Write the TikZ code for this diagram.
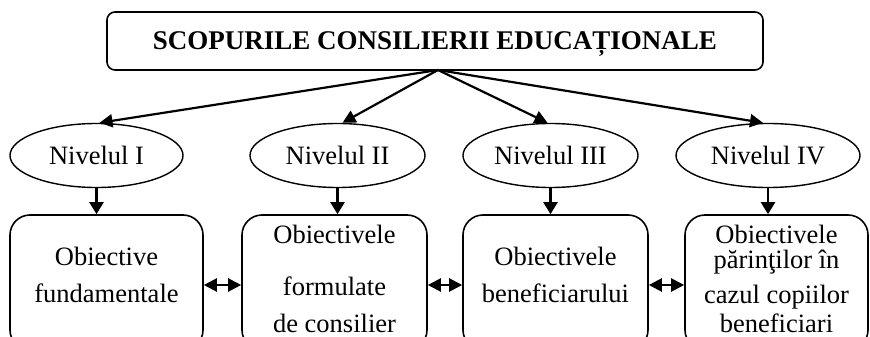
\documentclass[tikz,border=0pt]{standalone}
\usepackage{fontspec}
\setmainfont{Liberation Serif}
\usetikzlibrary{arrows.meta,shapes.geometric}
\begin{document}
\begin{tikzpicture}[x=1pt,y=-1pt,
  txt/.style={font=\fontsize{26.5}{30}\selectfont, inner sep=0pt, anchor=base},
  topbox/.style={draw, line width=1.6pt, rounded corners=8pt, minimum width=656pt, minimum height=58pt, inner sep=0pt},
  level/.style={draw, ellipse, line width=1.4pt, minimum height=64pt, inner sep=0pt},
  goalbox/.style={draw, line width=1.6pt, rounded corners=20pt, minimum height=135pt, inner sep=0pt},
  fan/.style={line width=2.2pt, -{Triangle[length=13pt,width=13pt]}},
  down/.style={line width=2.2pt, -{Triangle[length=12pt,width=14pt]}},
  link/.style={line width=2.2pt, {Triangle[length=13pt,width=13pt]}-{Triangle[length=13pt,width=13pt]}}]
\useasboundingbox (0,0) rectangle (870,337);
\clip (0,0) rectangle (870,337);

% heading
\node[topbox] (top) at (435,41) {};
\node[txt, font=\fontsize{27}{30}\selectfont\bfseries] at (435,50) {SCOPURILE CONSILIERII EDUCAȚIONALE};
\coordinate (apex) at (438,70);

% levels
\node[level, minimum width=173pt] (n1) at (96.5,155.5) {};
\node[level, minimum width=175pt] (n2) at (337.5,155.5) {};
\node[level, minimum width=175pt] (n3) at (550.5,155.5) {};
\node[level, minimum width=184pt] (n4) at (768,155.5) {};
\node[txt] at (96.5,164) {Nivelul I};
\node[txt] at (337.5,164) {Nivelul II};
\node[txt] at (550.5,164) {Nivelul III};
\node[txt] at (768,164) {Nivelul IV};

% goal boxes (run past the lower edge)
\node[goalbox, minimum width=193pt] (b1) at (106.5,282.5) {};
\node[goalbox, minimum width=185pt] (b2) at (334.5,282.5) {};
\node[goalbox, minimum width=185pt] (b3) at (555.5,282.5) {};
\node[goalbox, minimum width=183pt] (b4) at (776.5,282.5) {};

\node[txt] at (106.5,265) {Obiective};
\node[txt] at (106.5,302) {fundamentale};
\node[txt] at (334.5,243) {Obiectivele};
\node[txt] at (334.5,295) {formulate};
\node[txt] at (334.5,332) {de consilier};
\node[txt] at (555.5,265) {Obiectivele};
\node[txt] at (555.5,302) {beneficiarului};
\node[txt] at (776.5,243) {Obiectivele};
\node[txt] at (776.5,268) {părinţilor în};
\node[txt] at (776.5,303) {cazul copiilor};
\node[txt] at (776.5,332) {beneficiari};

% connectors
\draw[fan] (apex) -- ([xshift=3pt]n1.north);
\draw[fan] (apex) -- ([xshift=5pt]n2.north);
\draw[fan] (apex) -- ([xshift=-3pt]n3.north);
\draw[fan] (apex) -- ([xshift=-5pt]n4.north);
\draw[down] (n1.south) -- (n1.south |- b1.north);
\draw[down] (n2.south) -- (n2.south |- b2.north);
\draw[down] (n3.south) -- (n3.south |- b3.north);
\draw[down] (n4.south) -- (n4.south |- b4.north);
\draw[link] (b1.east |- 0,285) -- (b2.west |- 0,285);
\draw[link] (b2.east |- 0,285) -- (b3.west |- 0,285);
\draw[link] (b3.east |- 0,285) -- (b4.west |- 0,285);
\end{tikzpicture}
\end{document}
